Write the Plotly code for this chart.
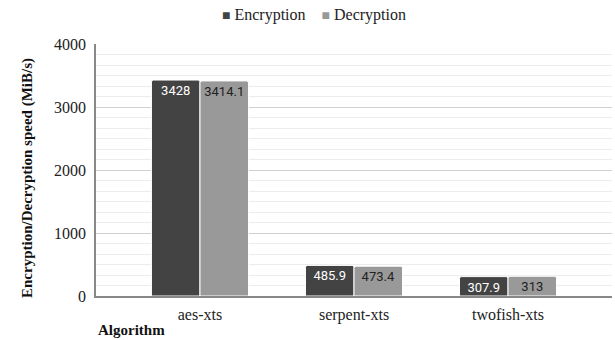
import plotly.graph_objects as go

algorithms = ["aes-xts", "serpent-xts", "twofish-xts"]
encryption = [3428, 485.9, 307.9]
decryption = [3414.1, 473.4, 313]
enc_labels = ["3428", "485.9", "307.9"]
dec_labels = ["3414.1", "473.4", "313"]
series_names = ["Encryption", "Decryption"]
series_colors = ["#434343", "#999999"]

serif = "Liberation Serif"

fig = go.Figure()
fig.add_trace(go.Bar(
    name=series_names[0], x=algorithms, y=encryption, text=enc_labels,
    marker=dict(color=series_colors[0], line=dict(color="white", width=1), cornerradius=2),
    textposition="inside", insidetextanchor="end", textangle=0, constraintext="none",
    textfont=dict(family="Roboto", size=13, color="white"),
))
fig.add_trace(go.Bar(
    name=series_names[1], x=algorithms, y=decryption, text=dec_labels,
    marker=dict(color=series_colors[1], line=dict(color="white", width=1), cornerradius=2),
    textposition="inside", insidetextanchor="end", textangle=0, constraintext="none",
    textfont=dict(family="Roboto", size=13, color="#222222"),
))

fig.update_layout(
    width=615, height=340,
    margin=dict(l=96, r=3, t=44, b=44),
    paper_bgcolor="white", plot_bgcolor="white",
    barmode="group", bargap=0.37, bargroupgap=0,
    font=dict(family=serif, size=16, color="#222222"),
    showlegend=False,
)
fig.update_xaxes(
    range=[-0.675, 2.675], showline=True, linecolor="#888888", linewidth=1.5,
    tickfont=dict(family=serif, size=16, color="#222222"), ticks="",
    ticklabelstandoff=3,
)
fig.update_yaxes(
    range=[0, 4000], dtick=1000, showline=True, linecolor="#888888", linewidth=1.5,
    gridcolor="#d0d0d0", gridwidth=1, zeroline=False,
    minor=dict(dtick=1000/6, showgrid=True, gridcolor="#ececec", gridwidth=1),
    tickfont=dict(family=serif, size=16, color="#222222"), ticks="",
    ticklabelstandoff=5,
)

# y-axis title
fig.add_annotation(text="<b>Encryption/Decryption speed (MiB/s)</b>", textangle=-90,
                   xref="paper", yref="paper", x=0, y=0.5, xanchor="center", yanchor="middle",
                   xshift=-69, yshift=-8, showarrow=False,
                   font=dict(family=serif, size=15, color="#111111"))
# x-axis title
fig.add_annotation(text="<b>Algorithm</b>", xref="paper", yref="paper", x=0, y=0,
                   xanchor="left", yanchor="top", yshift=-24, showarrow=False,
                   font=dict(family=serif, size=15, color="#111111"))

# legend
legend_text = "&nbsp;&nbsp;&nbsp;&nbsp;".join(
    f"<span style='color:{c};font-size:14px'>■</span> {n}"
    for n, c in zip(series_names, series_colors)
)
fig.add_annotation(text=legend_text, xref="paper", yref="paper",
                   x=(314 - 96) / 516, y=(296 - 15) / 252, xanchor="center", yanchor="middle",
                   showarrow=False, font=dict(family=serif, size=16, color="#222222"))

fig.write_html("out.html")
